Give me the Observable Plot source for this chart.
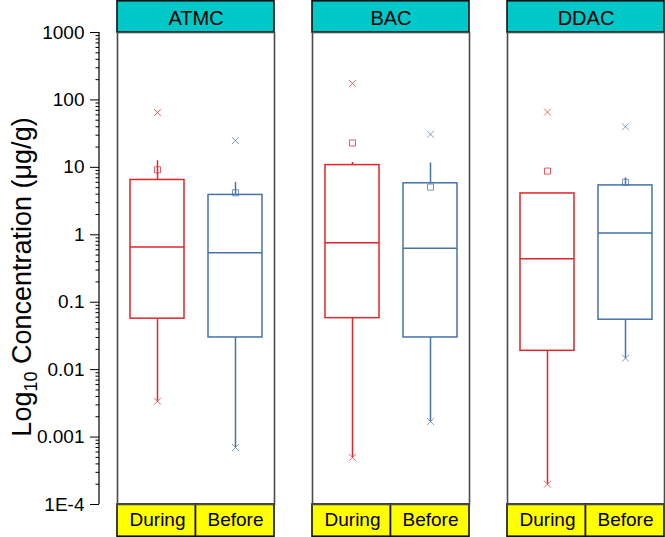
<!DOCTYPE html>
<html>
<head>
<meta charset="utf-8">
<script src="https://cdn.jsdelivr.net/npm/d3@7"></script>
<script src="https://cdn.jsdelivr.net/npm/@observablehq/plot@0.6"></script>
<style>
  html, body { margin: 0; padding: 0; background: #fff; }
</style>
</head>
<body>
<div id="chart"></div>
<script>
// ---- data ----
const compounds = ["ATMC", "BAC", "DDAC"];
const periods = ["During", "Before"];
const colors = ["#e0262b", "#4673a8"];
// order: ATMC During, ATMC Before, BAC During, BAC Before, DDAC During, DDAC Before
const minVals    = [0.0034, 0.0007, 0.0005, 0.0017, 0.0002, 0.0148];
const q1Vals     = [0.057, 0.030, 0.058, 0.030, 0.019, 0.055];
const medianVals = [0.66, 0.54, 0.76, 0.63, 0.44, 1.06];
const q3Vals     = [6.5, 3.9, 10.8, 5.8, 4.1, 5.4];
const whiskerHi  = [12.5, 6.0, 11.8, 11.6, 4.1, 7.0];
const meanVals   = [9.2, 4.2, 23, 5.1, 8.8, 6.0];
const maxVals    = [65, 25, 175, 31, 66, 40];
const majorTicks = [1000, 100, 10, 1, 0.1, 0.01, 0.001, 0.0001];
const tickLabels = ["1000", "100", "10", "1", "0.1", "0.01", "0.001", "1E-4"];
const minorMultipliers = [2, 3, 4, 5, 6, 7, 8, 9];

const rows = compounds.flatMap((c, i) => periods.map((p, j) => {
  const k = i * 2 + j;
  return {compound: c, period: p, min: minVals[k], q1: q1Vals[k], median: medianVals[k],
          q3: q3Vals[k], whi: whiskerHi[k], mean: meanVals[k], max: maxVals[k]};
}));
const minorTicks = majorTicks.slice(1).flatMap(t => minorMultipliers.map(m => t * m));

const font = "'Liberation Sans', Arial, Helvetica, sans-serif";
const axisShift = -18;

const chart = Plot.plot({
  width: 665,
  height: 537,
  marginTop: 32,
  marginBottom: 33,
  marginLeft: 117,
  marginRight: 1,
  style: {fontFamily: font, fontSize: "19px", color: "#000", background: "transparent"},
  fx: {domain: compounds, paddingInner: 0.197, paddingOuter: 0, label: null},
  x: {domain: periods, padding: 0, label: null},
  y: {type: "log", domain: [1e-4, 1000], label: null},
  color: {domain: periods, range: colors},
  marks: [
    Plot.frame({stroke: "#4a4a4a", strokeWidth: 1.6}),
    Plot.ruleX(rows, {fx: "compound", x: "period", y1: "min", y2: "q1", stroke: "period", strokeWidth: 1.5}),
    Plot.ruleX(rows, {fx: "compound", x: "period", y1: "q3", y2: "whi", stroke: "period", strokeWidth: 1.5}),
    Plot.barY(rows, {fx: "compound", x: "period", y1: "q1", y2: "q3", fill: "white", stroke: "period", strokeWidth: 1.5, insetLeft: 12, insetRight: 12}),
    Plot.tickY(rows, {fx: "compound", x: "period", y: "median", stroke: "period", strokeWidth: 1.5, inset: 12}),
    Plot.dot(rows, {fx: "compound", x: "period", y: "mean", symbol: "square", r: 3.4, stroke: "period", strokeWidth: 1, strokeOpacity: 0.75, fill: "none"}),
    Plot.dot(rows, {fx: "compound", x: "period", y: "max", symbol: "times", r: 3.2, stroke: "period", strokeWidth: 1, strokeOpacity: 0.7}),
    Plot.dot(rows, {fx: "compound", x: "period", y: "min", symbol: "times", r: 3.2, stroke: "period", strokeWidth: 1, strokeOpacity: 0.7}),
    Plot.axisFx({anchor: "top", tickSize: 0, tickPadding: 8, fontSize: 20, label: null}),
    Plot.axisX({anchor: "bottom", tickSize: 0, tickPadding: 8, fontSize: 19, label: null}),
    Plot.axisY({anchor: "left", ticks: minorTicks, tickFormat: () => "", tickSize: 3.5, dx: axisShift, label: null}),
    Plot.axisY({anchor: "left", ticks: majorTicks, tickFormat: d => tickLabels[majorTicks.indexOf(d)],
                tickSize: 9, tickPadding: 6, dx: axisShift, fontSize: 19, label: null})
  ]
});

document.getElementById("chart").appendChild(chart);

// ---- decorations: strip headers / footers, axis line, y label ----
const svg = d3.select(chart);
const fx = chart.scale("fx");
const y = chart.scale("y");
const bw = fx.bandwidth;
const yTop = Math.min(...y.range), yBot = Math.max(...y.range);
const bg = svg.insert("g", ":first-child");
bg.append("rect").attr("x", 0).attr("y", 0).attr("width", 665).attr("height", 537).attr("fill", "white");
compounds.forEach(c => {
  const x0 = fx.apply(c);
  bg.append("rect").attr("x", x0).attr("y", 0.8).attr("width", bw).attr("height", yTop - 0.8)
    .attr("fill", "#00c8c8").attr("stroke", "#111").attr("stroke-width", 1.6);
  periods.forEach((p, j) => {
    bg.append("rect").attr("x", x0 + j * bw / 2).attr("y", yBot).attr("width", bw / 2).attr("height", 537 - yBot - 0.8)
      .attr("fill", "#ffff00").attr("stroke", "#111").attr("stroke-width", 1.6);
  });
});
const axisX = fx.apply(compounds[0]) + axisShift;
svg.append("line").attr("x1", axisX).attr("x2", axisX).attr("y1", yTop).attr("y2", yBot)
  .attr("stroke", "#000").attr("stroke-width", 1.2);

const yl = svg.append("text")
  .attr("transform", `translate(31,${(yTop + yBot) / 2 + 9}) rotate(-90)`)
  .attr("text-anchor", "middle")
  .attr("font-family", font)
  .attr("font-size", 27)
  .attr("fill", "#000");
yl.append("tspan").text("Log");
yl.append("tspan").attr("font-size", 18).attr("dy", 6).text("10");
yl.append("tspan").attr("dy", -6).text(" Concentration (μg/g)");
</script>
</body>
</html>
